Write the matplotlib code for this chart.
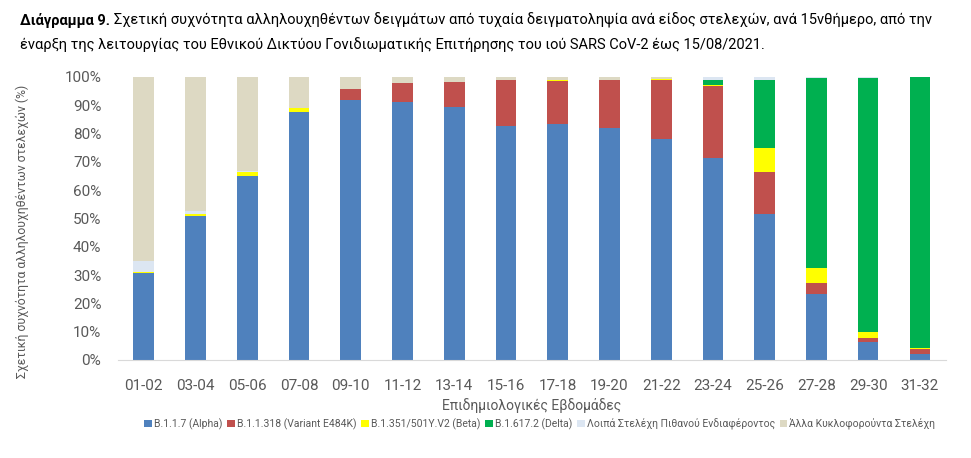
import numpy as np
import matplotlib
matplotlib.use("Agg")
import matplotlib.pyplot as plt

plt.rcParams['font.family'] = ['Roboto', 'DejaVu Sans']

weeks = ['01-02', '03-04', '05-06', '07-08', '09-10', '11-12', '13-14', '15-16',
         '17-18', '19-20', '21-22', '23-24', '25-26', '27-28', '29-30', '31-32']

# percentages per strain
alpha = [30.6, 50.9, 65.0, 87.6, 92.0, 91.3, 89.5, 82.6, 83.3, 81.9, 78.1, 71.3, 51.6, 23.2, 6.2, 2.0]
e484k = [0.0, 0.0, 0.0, 0.0, 3.6, 6.7, 8.8, 16.3, 15.3, 17.0, 20.8, 25.5, 14.8, 4.1, 1.7, 1.9]
beta = [0.4, 0.8, 1.3, 1.3, 0.0, 0.0, 0.0, 0.0, 0.3, 0.0, 0.3, 0.5, 8.6, 5.3, 1.9, 0.3]
delta = [0.0, 0.0, 0.0, 0.0, 0.0, 0.0, 0.0, 0.0, 0.0, 0.0, 0.0, 1.6, 23.9, 66.9, 89.7, 95.8]
other_voi = [4.0, 1.0, 0.6, 0.0, 0.0, 0.0, 0.0, 0.0, 0.0, 0.0, 0.0, 1.1, 1.1, 0.5, 0.5, 0.0]
other_circ = [100 - sum(v) for v in zip(alpha, e484k, beta, delta, other_voi)]

labels = ['B.1.1.7 (Alpha)', 'B.1.1.318 (Variant E484K)', 'B.1.351/501Y.V2 (Beta)',
          'B.1.617.2 (Delta)', 'Λοιπά Στελέχη Πιθανού Ενδιαφέροντος',
          'Άλλα Κυκλοφορούντα Στελέχη']
colors = ['#4F81BD', '#C0504D', '#FFFF00', '#00B050', '#DCE6F2', '#DDD9C3']
series = [alpha, e484k, beta, delta, other_voi, other_circ]

fig = plt.figure(figsize=(9.71, 4.58), dpi=100)
ax = fig.add_axes([0.1215, 0.214, 0.8525, 0.618])

x = np.arange(len(weeks))
bottom = np.zeros(len(weeks))
for vals, lab, col in zip(series, labels, colors):
    ax.bar(x, vals, 0.4, bottom=bottom, color=col, label=lab)
    bottom += np.array(vals)

ax.set_xlim(-0.5, 15.5)
ax.set_ylim(0, 100)
ax.set_yticks(np.arange(0, 101, 10))
ax.set_yticklabels([f'{v}%' for v in range(0, 101, 10)])
ax.set_xticks(x)
ax.set_xticklabels(weeks)
grey = '#595959'
ax.tick_params(axis='both', length=0, colors=grey, labelsize=11)
ax.tick_params(axis='x', pad=14)
ax.tick_params(axis='y', pad=12)
for s in ['top', 'right', 'left']:
    ax.spines[s].set_visible(False)
ax.spines['bottom'].set_color('#D9D9D9')

ax.set_xlabel('Επιδημιολογικές Εβδομάδες', color=grey, fontsize=10, labelpad=3)
fig.text(0.023, 0.495, 'Σχετική συχνότητα αλληλουχηθέντων στελεχών (%)',
         rotation=90, color=grey, fontsize=8.8, ha='center', va='center')

leg = fig.legend(loc='center', bbox_to_anchor=(0.556, 0.074), ncol=6, frameon=False,
                 fontsize=7.5, handlelength=0.7, handleheight=0.7, handletextpad=0.2,
                 columnspacing=0.5, labelcolor=grey)

# title: bold prefix then normal text
t1 = fig.text(0.021, 0.955, 'Διάγραμμα 9.', fontsize=10.5, fontweight='bold', va='center')
fig.canvas.draw()
bb = t1.get_window_extent()
fig.text((bb.x1 + 4) / fig.bbox.width, 0.955,
         'Σχετική συχνότητα αλληλουχηθέντων δειγμάτων από τυχαία δειγματοληψία ανά είδος στελεχών, ανά 15νθήμερο, από την',
         fontsize=10.5, va='center')
fig.text(0.021, 0.902,
         'έναρξη της λειτουργίας του Εθνικού Δικτύου Γονιδιωματικής Επιτήρησης του ιού SARS CoV-2 έως 15/08/2021.',
         fontsize=10.5, va='center')

fig.savefig('out.png', dpi=100)
